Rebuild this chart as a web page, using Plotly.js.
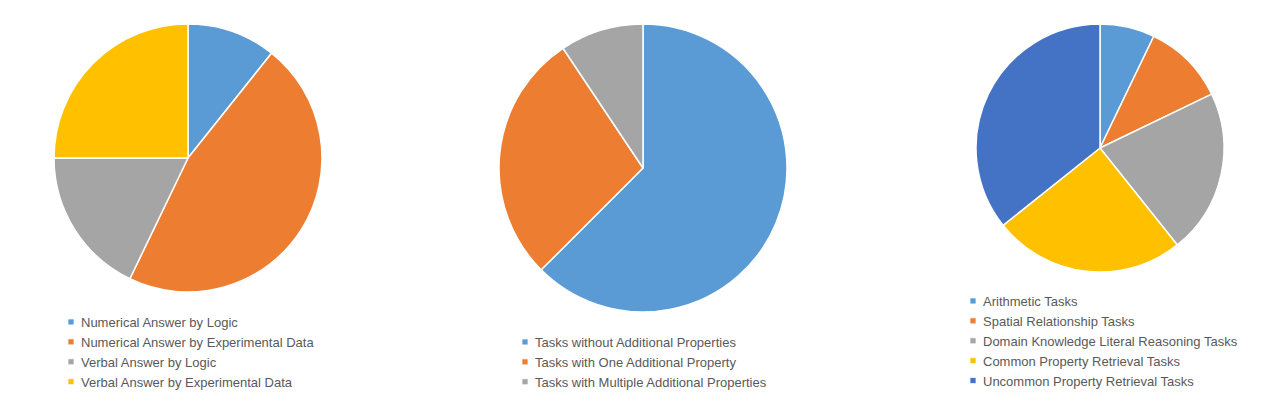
<html lang="en">
  <head>
    <meta charset="UTF-8" />
    <script src="https://cdn.plot.ly/plotly-3.0.1.min.js"></script>
    <title>Task pies</title>
    <style>
      body { margin: 0; background: #fff; }
      /* small square legend swatches, close to the text */
      path.legendpie { transform: translate(30px, 0) scale(0.5); }
    </style>
  </head>
  <body>
    <div id="pies" style="width: 1268px; height: 413px"></div>
    <script>
      // pie 1: answer types
      const answerLabels = [
        "Numerical Answer by Logic",
        "Numerical Answer by Experimental Data",
        "Verbal Answer by Logic",
        "Verbal Answer by Experimental Data",
      ];
      const answerValues = [3, 13, 5, 7];

      // pie 2: additional properties
      const propLabels = [
        "Tasks without Additional Properties",
        "Tasks with One Additional Property",
        "Tasks with Multiple Additional Properties",
      ];
      const propValues = [20, 9, 3];

      // pie 3: task kinds
      const taskLabels = [
        "Arithmetic Tasks",
        "Spatial Relationship Tasks",
        "Domain Knowledge Literal Reasoning Tasks",
        "Common Property Retrieval Tasks",
        "Uncommon Property Retrieval Tasks",
      ];
      const taskValues = [2, 3, 6, 7, 10];

      const colors = ["#5B9BD5", "#ED7D31", "#A5A5A5", "#FFC000", "#4472C4"];

      const W = 1268, H = 413;
      // helper: pixel box -> paper domain
      function dom(x0, x1, yTop, yBot) {
        return { x: [x0 / W, x1 / W], y: [1 - yBot / H, 1 - yTop / H] };
      }

      function pie(labels, values, domain, legend) {
        return {
          type: "pie",
          labels: labels,
          values: values,
          sort: false,
          direction: "clockwise",
          rotation: 0,
          textinfo: "none",
          hoverinfo: "label+percent",
          marker: { colors: colors, line: { color: "#fff", width: 1.5 } },
          domain: domain,
          legend: legend,
        };
      }

      const data = [
        pie(answerLabels, answerValues, dom(54, 322, 24, 292), "legend"),
        pie(propLabels, propValues, dom(499, 787, 24, 312), "legend2"),
        pie(taskLabels, taskValues, dom(976, 1224, 24, 272), "legend3"),
      ];

      const legFont = { family: "Liberation Sans, Arial, sans-serif", size: 13, color: "#595959" };
      function leg(xpx, ypx) {
        return {
          x: xpx / W, y: 1 - ypx / H, xanchor: "left", yanchor: "top",
          font: legFont, bgcolor: "rgba(0,0,0,0)", traceorder: "normal",
        };
      }

      const layout = {
        width: W,
        height: H,
        margin: { l: 0, r: 0, t: 0, b: 0 },
        paper_bgcolor: "#fff",
        showlegend: true,
        legend: leg(41, 307),
        legend2: leg(495, 327),
        legend3: leg(943, 286),
      };

      Plotly.newPlot("pies", data, layout, { displayModeBar: false });
    </script>
  </body>
</html>
